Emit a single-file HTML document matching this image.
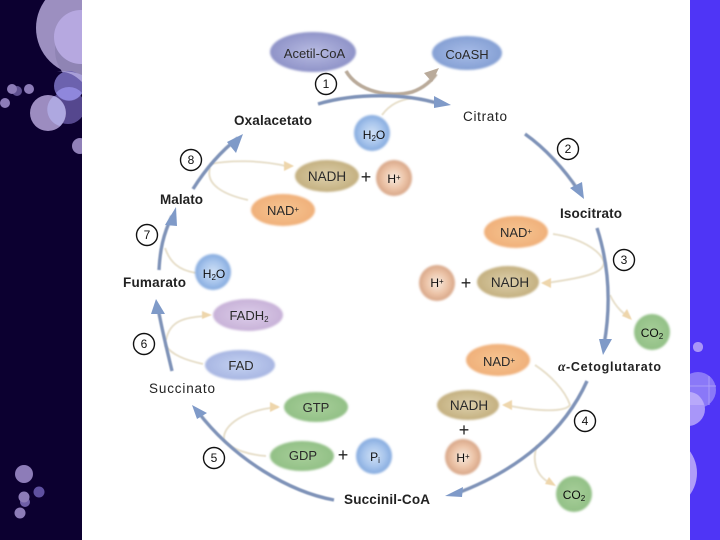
<!DOCTYPE html>
<html><head><meta charset="utf-8"><style>
html,body{margin:0;padding:0;background:#fff}
svg{display:block}
text{font-family:"Liberation Sans",sans-serif;fill:#222}
.t{font-size:13.5px;font-weight:bold}
.n{font-size:13px;text-anchor:middle;fill:#2a2a2a}
.n2{font-size:13.5px;text-anchor:middle;fill:#2a2a2a}
.c{font-size:12px;text-anchor:middle;fill:#111}
.num{fill:#fff;stroke:#111;stroke-width:1.4}
.main{fill:none;stroke:#7f93b8;stroke-width:3.4}
.side{fill:none;stroke:#e8e0cc;stroke-width:2}
.ah{fill:#7f9ac8}
.sh{fill:#eed6ac}
.sub{font-size:8px}
</style></head><body>
<svg width="720" height="540" viewBox="0 0 720 540" xmlns="http://www.w3.org/2000/svg">
<defs>
<filter id="b" x="-20%" y="-20%" width="140%" height="140%"><feGaussianBlur stdDeviation="1"/></filter>
<filter id="s" x="-20%" y="-20%" width="140%" height="140%"><feGaussianBlur stdDeviation=".6"/></filter>
<filter id="tx" x="-5%" y="-5%" width="110%" height="110%"><feGaussianBlur stdDeviation=".3"/></filter>
<radialGradient id="blue"><stop offset="0" stop-color="#cfe0f6"/><stop offset=".6" stop-color="#a8c5ec"/><stop offset="1" stop-color="#86abdf"/></radialGradient>
<radialGradient id="pink"><stop offset="0" stop-color="#f8ebe0"/><stop offset=".6" stop-color="#ecc4a8"/><stop offset="1" stop-color="#d8a688"/></radialGradient>
<radialGradient id="green"><stop offset="0" stop-color="#a8cf9a"/><stop offset="1" stop-color="#92c086"/></radialGradient>
<radialGradient id="gold"><stop offset="0" stop-color="#ddd0ac"/><stop offset="1" stop-color="#c4b080"/></radialGradient>
<radialGradient id="or"><stop offset="0" stop-color="#f6c592"/><stop offset="1" stop-color="#f0b07a"/></radialGradient>
<radialGradient id="ac"><stop offset="0" stop-color="#b8bbe2"/><stop offset="1" stop-color="#8f93c8"/></radialGradient>
<radialGradient id="coa"><stop offset="0" stop-color="#a8bce8"/><stop offset="1" stop-color="#85a0d4"/></radialGradient>
<radialGradient id="fad"><stop offset="0" stop-color="#c4d2f2"/><stop offset="1" stop-color="#a8b6e2"/></radialGradient>
<radialGradient id="fh"><stop offset="0" stop-color="#dccdea"/><stop offset="1" stop-color="#c8b2d8"/></radialGradient>
<clipPath id="l"><rect width="82" height="540"/></clipPath>
<clipPath id="r"><rect x="690" width="30" height="540"/></clipPath>
</defs>
<rect width="720" height="540" fill="#fff"/>
<rect width="82" height="540" fill="#0c0030"/>
<rect x="690" width="30" height="540" fill="#4f35f6"/>
<g clip-path="url(#l)">
<circle cx="83" cy="28" r="47" fill="#9c8fc0"/>
<circle cx="92" cy="50" r="37" fill="#8f84b4"/>
<circle cx="81" cy="37" r="27" fill="#b6a8e0"/>
<circle cx="68" cy="107" r="17" fill="#55478e"/>
<circle cx="69" cy="86" r="15" fill="#6c62ae"/>
<path d="M56 93 A15 15 0 0 0 82 93 A17 17 0 0 0 56 93Z" fill="#8f87dc"/>
<path d="M57 72 Q70 70 82 82 L82 75 Q70 70 57 72Z" fill="#a89fd8"/>
<circle cx="48" cy="113" r="18" fill="#9c8cc0"/>
<path d="M54 96 A18 18 0 0 1 60 126 A17 17 0 0 1 54 96Z" fill="#aea8e0"/>
<circle cx="17" cy="91" r="5" fill="#5f5090"/>
<circle cx="12" cy="89" r="5" fill="#8d7cb8"/>
<circle cx="29" cy="89" r="5" fill="#8d7cb8"/>
<circle cx="5" cy="103" r="5" fill="#8d7cb8"/>
<circle cx="80" cy="146" r="8" fill="#9080b8"/>
<circle cx="24" cy="474" r="9" fill="#8d7cb8"/>
<circle cx="25" cy="502" r="5" fill="#6f5fa8"/>
<circle cx="24" cy="497" r="5.5" fill="#8d7cb8"/>
<circle cx="39" cy="492" r="5.5" fill="#5f50a0"/>
<circle cx="20" cy="513" r="5.5" fill="#8d7cb8"/>
</g>
<g clip-path="url(#r)">
<rect x="693" y="342" width="10" height="10" rx="4.5" fill="#a995f8"/>
<circle cx="698" cy="390" r="18" fill="#8a78f8"/>
<path d="M709 376 V405 M690 386 H716" stroke="#ab9cf9" stroke-width="1"/>
<circle cx="688" cy="409" r="17" fill="#a896f9"/>
<path d="M690 392 A17 17 0 0 1 698 395 A20 20 0 0 1 704 405 L690 405Z" fill="#b8a8fa"/>
<circle cx="660" cy="473" r="37" fill="#b09ef8"/>
</g>

<!-- side arrows -->
<g class="side" filter="url(#s)">
<path d="M346 71 C358 92 390 98 412 92 C424 88 432 80 436 74" stroke="#b9aa9a" stroke-width="3.6"/>
<path d="M382 115 C390 104 400 100 412 98"/>
<path d="M210 164 C230 160 260 160 286 166"/>
<path d="M248 200 C225 195 205 185 210 168"/>
<path d="M196 273 C178 270 170 262 165 248"/>
<path d="M166 340 C170 320 185 318 204 316"/>
<path d="M165 345 C172 355 185 360 203 364"/>
<path d="M224 440 C222 425 245 410 278 407"/>
<path d="M224 440 C232 450 250 455 266 456"/>
<path d="M553 234 C580 238 600 250 604 262 C604 272 590 277 546 283"/>
<path d="M610 295 C616 308 624 314 630 318"/>
<path d="M535 365 C550 375 565 390 570 405 C565 412 540 412 505 405"/>
<path d="M537 445 C532 460 535 475 550 483"/>
</g>
<g class="sh" filter="url(#s)">
<path d="M294 166 L284 161 L284 171Z"/>
<path d="M212 315 L202 311 L202 319Z"/>
<path d="M280 407 L270 402 L270 412Z"/>
<path d="M541 283 L551 278 L551 288Z"/>
<path d="M632 320 L622 316 L627 309Z"/>
<path d="M502 405 L512 400 L512 410Z"/>
<path d="M556 486 L545 484 L549 477Z"/>
</g>
<path d="M439 68 L424 73 L432 82Z" fill="#b9aa9a"/>

<!-- main arrows -->
<g class="main" filter="url(#s)">
<path d="M318 104 C355 93 405 93 440 104"/>
<path d="M525 134 C545 148 565 170 578 190"/>
<path d="M597 228 C608 262 612 300 604 345"/>
<path d="M587 381 C565 430 520 470 455 494"/>
<path d="M334 500 C290 492 235 460 198 412"/>
<path d="M172 371 C167 350 162 330 158 308"/>
<path d="M159 270 C160 250 163 235 172 216"/>
<path d="M193 189 C205 170 220 152 238 138"/>
</g>
<g class="ah">
<path d="M451 105 L434 96 L434 108Z"/>
<path d="M584 199 L570 188 L582 182Z"/>
<path d="M603 355 L599 339 L612 339Z"/>
<path d="M445 496 L463 487 L462 497Z"/>
<path d="M192 405 L207 413 L197 419Z"/>
<path d="M156 299 L151 314 L165 314Z"/>
<path d="M176 207 L165 225 L177 226Z"/>
<path d="M243 134 L227 142 L236 153Z"/>
</g>

<!-- nodes -->
<g filter="url(#b)">
<ellipse cx="313" cy="52" rx="43" ry="20" fill="url(#ac)"/>
<ellipse cx="467" cy="53" rx="35" ry="17" fill="url(#coa)"/>
<circle cx="372" cy="133" r="18" fill="url(#blue)"/>
<ellipse cx="327" cy="176" rx="32" ry="16" fill="url(#gold)"/>
<circle cx="394" cy="178" r="18" fill="url(#pink)"/>
<ellipse cx="283" cy="210" rx="32" ry="16" fill="url(#or)"/>
<ellipse cx="516" cy="232" rx="32" ry="16" fill="url(#or)"/>
<circle cx="437" cy="283" r="18" fill="url(#pink)"/>
<ellipse cx="508" cy="282" rx="31" ry="16" fill="url(#gold)"/>
<circle cx="652" cy="332" r="18" fill="url(#green)"/>
<ellipse cx="498" cy="360" rx="32" ry="16" fill="url(#or)"/>
<ellipse cx="468" cy="405" rx="31" ry="15" fill="url(#gold)"/>
<circle cx="463" cy="457" r="18" fill="url(#pink)"/>
<circle cx="374" cy="456" r="18" fill="url(#blue)"/>
<circle cx="574" cy="494" r="18" fill="url(#green)"/>
<ellipse cx="316" cy="407" rx="32" ry="15" fill="url(#green)"/>
<ellipse cx="302" cy="456" rx="32" ry="15" fill="url(#green)"/>
<ellipse cx="248" cy="315" rx="35" ry="16" fill="url(#fh)"/>
<ellipse cx="240" cy="365" rx="35" ry="15" fill="url(#fad)"/>
<circle cx="213" cy="272" r="18" fill="url(#blue)"/>
</g>

<g filter="url(#tx)">
<!-- node labels -->
<text class="n" x="314.5" y="58">Acetil-CoA</text>
<text class="n" x="467" y="59">CoASH</text>
<text class="c" x="374" y="139">H<tspan class="sub" dy="2">2</tspan><tspan dy="-2">O</tspan></text>
<text class="n2" x="327" y="181">NADH</text>
<text x="366" y="183" style="font-size:18px;text-anchor:middle;fill:#222">+</text>
<text class="c" x="394" y="183">H<tspan class="sub" dy="-3">+</tspan></text>
<text class="n" x="283" y="215">NAD<tspan class="sub" dy="-3">+</tspan></text>
<text class="n" x="516" y="237">NAD<tspan class="sub" dy="-3">+</tspan></text>
<text class="c" x="437" y="287">H<tspan class="sub" dy="-3">+</tspan></text>
<text x="466" y="289" style="font-size:18px;text-anchor:middle;fill:#222">+</text>
<text class="n2" x="510" y="287">NADH</text>
<text class="c" x="652" y="337">CO<tspan class="sub" dy="2">2</tspan></text>
<text class="n" x="499" y="366">NAD<tspan class="sub" dy="-3">+</tspan></text>
<text class="n2" x="469" y="410">NADH</text>
<text x="464" y="436" style="font-size:18px;text-anchor:middle;fill:#222">+</text>
<text class="c" x="463" y="462">H<tspan class="sub" dy="-3">+</tspan></text>
<text class="c" x="375" y="461">P<tspan class="sub" dy="2">i</tspan></text>
<text class="c" x="574" y="499">CO<tspan class="sub" dy="2">2</tspan></text>
<text class="n" x="316" y="412">GTP</text>
<text class="n" x="303" y="460">GDP</text>
<text x="343" y="461" style="font-size:18px;text-anchor:middle;fill:#222">+</text>
<text class="n" x="249" y="320">FADH<tspan class="sub" dy="2">2</tspan></text>
<text class="n" x="241" y="370">FAD</text>
<text class="c" x="214" y="278">H<tspan class="sub" dy="2">2</tspan><tspan dy="-2">O</tspan></text>

<!-- metabolites -->
<text class="t" x="234" y="125" textLength="78">Oxalacetato</text>
<text class="t" x="463" y="121" textLength="44" style="font-weight:normal">Citrato</text>
<text class="t" x="560" y="218" textLength="62">Isocitrato</text>
<text class="t" x="558" y="371" style="font-family:'Liberation Serif',serif;font-style:italic">α</text>
<text class="t" x="566" y="371" textLength="95" style="font-size:12.5px">-Cetoglutarato</text>
<text class="t" x="344" y="504" textLength="86">Succinil-CoA</text>
<text class="t" x="149" y="393" textLength="66" style="font-weight:normal">Succinato</text>
<text class="t" x="123" y="287" textLength="63">Fumarato</text>
<text class="t" x="160" y="204" textLength="43">Malato</text>
</g>

<!-- step numbers -->
<g>
<circle class="num" cx="326" cy="84" r="10.5"/><text class="c" x="326" y="88">1</text>
<circle class="num" cx="568" cy="149" r="10.5"/><text class="c" x="568" y="153">2</text>
<circle class="num" cx="624" cy="260" r="10.5"/><text class="c" x="624" y="264">3</text>
<circle class="num" cx="585" cy="421" r="10.5"/><text class="c" x="585" y="425">4</text>
<circle class="num" cx="214" cy="458" r="10.5"/><text class="c" x="214" y="462">5</text>
<circle class="num" cx="144" cy="344" r="10.5"/><text class="c" x="144" y="348">6</text>
<circle class="num" cx="147" cy="235" r="10.5"/><text class="c" x="147" y="239">7</text>
<circle class="num" cx="191" cy="160" r="10.5"/><text class="c" x="191" y="164">8</text>
</g>
</svg>
</body></html>
